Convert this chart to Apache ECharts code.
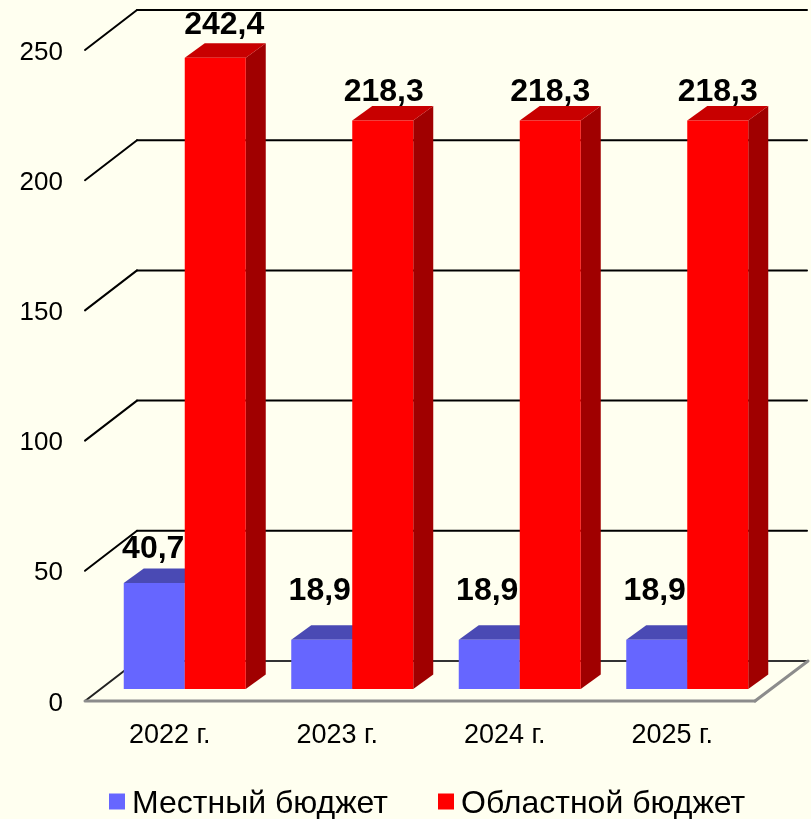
<!DOCTYPE html>
<html>
<head>
<meta charset="utf-8">
<style>html,body{margin:0;padding:0;background:#fffff0}#c{width:811px;height:819px}</style>
<script src="https://cdn.jsdelivr.net/npm/echarts@6/dist/echarts.min.js"></script>
</head>
<body>
<div id="c"></div>
<script>
const categories = ['2022 г.', '2023 г.', '2024 г.', '2025 г.'];
const localBudget = [40.7, 18.9, 18.9, 18.9];
const regionalBudget = [242.4, 218.3, 218.3, 218.3];
const yTicks = [0, 50, 100, 150, 200, 250];
const seriesNames = ['Местный бюджет', 'Областной бюджет'];
const valueLabels = [['40,7', '18,9', '18,9', '18,9'], ['242,4', '218,3', '218,3', '218,3']];

// layout only (pixels)
const FONT = '"Liberation Sans", Arial, sans-serif';
const wallDX = 52, wallDY = -40, barLift = -12, depthX = 20, depthY = -14.5, barW = 61;
const labelDX = [[-1, -2, -2, -2], [9, 1, 0, 0]];
const labelGap = [[8, 23, 23, 23], [7, 2, 2, 2]];

const chart = echarts.init(document.getElementById('c'), null, { renderer: 'canvas' });

function poly(points, fill, z2) {
  return { type: 'polygon', z2: z2 || 0, shape: { points }, style: { fill, stroke: null } };
}
function line(x1, y1, x2, y2, stroke, w) {
  return { type: 'line', shape: { x1, y1, x2, y2 }, style: { stroke, lineWidth: w, lineCap: 'round', fill: null } };
}

function renderWall(params, api) {
  const cs = params.coordSys;
  const v = api.value(1);
  const y = api.coord([0, v])[1];
  const x0 = cs.x, x1 = cs.x + cs.width;
  const children = [];
  if (v === 0) {
    children.push({
      type: 'polygon',
      shape: { points: [[x0, y], [x1, y], [x1 + wallDX + 1, y + wallDY], [x0 + wallDX, y + wallDY]] },
      style: { fill: '#fffff0', stroke: null }
    });
    children.push(line(x0 + wallDX, y + wallDY, x1 + wallDX, y + wallDY, '#333333', 2));
    children.push(line(x0, y, x0 + wallDX, y + wallDY, '#222222', 2));
    children.push(line(x1, y, x1 + wallDX + 1, y + wallDY, '#8c8c8c', 3));
    children.push(line(x0, y, x1, y, '#8c8c8c', 3));
  } else {
    children.push(line(x0, y, x0 + wallDX, y + wallDY, '#000000', 2));
    children.push(line(x0 + wallDX, y + wallDY, x1 + wallDX, y + wallDY, '#000000', 2));
  }
  return { type: 'group', children };
}

function makeBarRenderer(sIdx, xOff, front, top, side) {
  return function (params, api) {
    const i = api.value(0), v = api.value(1);
    const c = api.coord([i, v]);
    const base = api.coord([i, 0])[1] + barLift;
    const yTop = c[1] + barLift;
    const l = c[0] + xOff, r = l + barW;
    const cx = (l + r) / 2 + labelDX[sIdx][i];
    const labelY = yTop + depthY - labelGap[sIdx][i] - 11.5;
    return {
      type: 'group',
      children: [
        poly([[r, base], [r + depthX, base + depthY], [r + depthX, yTop + depthY], [r, yTop]], side),
        poly([[l, yTop], [l + depthX, yTop + depthY], [r + depthX, yTop + depthY], [r, yTop]], top),
        poly([[l, base], [r, base], [r, yTop], [l, yTop]], front),
        {
          type: 'text', z2: 10,
          style: {
            x: cx, y: labelY, text: valueLabels[sIdx][i], fill: '#000000',
            font: 'bold 32px ' + FONT, textAlign: 'center', textVerticalAlign: 'middle'
          }
        }
      ]
    };
  };
}

chart.setOption({
  backgroundColor: '#fffff0',
  animation: false,
  legend: {
    data: seriesNames,
    left: 104, top: 783,
    icon: 'rect', itemWidth: 16, itemHeight: 16, itemGap: 50,
    selectedMode: false,
    formatter: name => '{a|' + name + '}',
    textStyle: {
      fontFamily: FONT, fontSize: 32, color: '#000000',
      rich: { a: { fontFamily: FONT, fontSize: 32, color: '#000000', padding: [5, 0, 0, 2] } }
    }
  },
  grid: { left: 85, top: 50, width: 670, height: 651 },
  xAxis: {
    type: 'category', data: categories,
    axisLine: { show: false }, axisTick: { show: false },
    axisLabel: { margin: 21, fontFamily: FONT, fontSize: 27, color: '#000000', padding: [0, 0, 0, 2] }
  },
  yAxis: {
    type: 'value', min: 0, max: 250, interval: 50,
    axisLine: { show: false }, axisTick: { show: false }, splitLine: { show: false },
    axisLabel: {
      margin: 22, fontFamily: FONT, fontSize: 26, color: '#000000',
      formatter: '{a|{value}}',
      rich: { a: { fontFamily: FONT, fontSize: 26, color: '#000000', padding: [5, 0, 0, 0] } }
    }
  },
  series: [
    {
      type: 'custom', name: 'walls', z: 1, silent: true, clip: false,
      renderItem: renderWall, encode: { x: 0, y: 1 },
      data: yTicks.map(v => [0, v])
    },
    {
      type: 'custom', name: seriesNames[0], z: 2, clip: false,
      itemStyle: { color: '#6666ff' },
      renderItem: makeBarRenderer(0, -45, '#6666ff', '#4a4ab4', '#4a4ab4'),
      encode: { x: 0, y: 1 },
      data: localBudget.map((v, i) => [i, v])
    },
    {
      type: 'custom', name: seriesNames[1], z: 3, clip: false,
      itemStyle: { color: '#ff0000' },
      renderItem: makeBarRenderer(1, 16, '#ff0000', '#c80000', '#a00000'),
      encode: { x: 0, y: 1 },
      data: regionalBudget.map((v, i) => [i, v])
    }
  ]
});
</script>
</body>
</html>
